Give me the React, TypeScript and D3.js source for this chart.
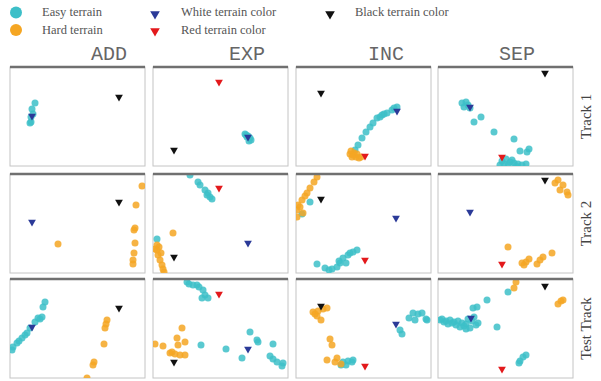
import { scaleLinear, symbol, symbolTriangle } from "d3";

type Pt = [number, number];

// embedding coordinates, x in [0,135], y in [0,99] (y grows downward)
const columns = ["ADD", "EXP", "INC", "SEP"];
const rows = ["Track 1", "Track 2", "Test Track"];

const easyTrack1: Pt[][] = [
  [[25, 36], [22, 42], [21, 50], [21, 55], [20, 56], [23, 47]],
  [[92, 67], [95, 69], [97, 71], [98, 73], [94, 70], [96, 74], [93, 68]],
  [[101, 40], [96, 43], [91, 46], [86, 48], [81, 51], [77, 56], [74, 60], [70, 65], [66, 71], [62, 78], [59, 83], [98, 41], [88, 47], [84, 50]],
  [[24, 36], [28, 35], [30, 38], [26, 40], [32, 41], [43, 50], [36, 55], [56, 65], [76, 72], [82, 84], [91, 82], [89, 85], [64, 94], [68, 92], [72, 95], [76, 96], [80, 97], [84, 98], [88, 97], [70, 98], [66, 97], [74, 93], [78, 99], [62, 98]],
];
const hardTrack1: Pt[][] = [
  [],
  [],
  [[55, 84], [57, 88], [60, 90], [63, 91], [58, 86], [54, 87], [61, 87], [65, 90], [56, 90]],
  [],
];

const easyTrack2: Pt[][] = [
  [],
  [[37, 1], [45, 8], [47, 11], [52, 16], [55, 19], [57, 23], [59, 25], [54, 21], [4, 65]],
  [[14, 28], [6, 40], [21, 90], [29, 94], [36, 95], [41, 93], [44, 89], [47, 84], [52, 81], [57, 78], [61, 76], [54, 79], [50, 89], [43, 87], [33, 96]],
  [],
];
const hardTrack2: Pt[][] = [
  [[48, 70], [132, 12], [126, 31], [125, 54], [124, 56], [125, 69], [124, 79], [123, 86], [123, 90]],
  [[20, 59], [4, 71], [4, 76], [5, 81], [7, 86], [9, 91], [10, 95], [6, 73], [8, 79], [2, 75], [11, 98]],
  [[21, 3], [18, 8], [14, 14], [11, 19], [6, 26], [2, 31], [1, 36], [1, 43], [7, 39], [4, 33], [9, 22]],
  [[120, 6], [125, 11], [122, 16], [129, 18], [130, 21], [117, 9], [70, 73], [84, 89], [88, 88], [91, 85], [86, 91], [99, 90], [105, 83], [114, 79], [102, 86]],
];

const easyTest: Pt[][] = [
  [[35, 23], [33, 28], [32, 38], [28, 39], [25, 43], [20, 49], [17, 54], [12, 59], [7, 64], [3, 68], [2, 71], [15, 56], [9, 62], [30, 40]],
  [[34, 3], [40, 6], [46, 8], [50, 11], [52, 16], [49, 19], [55, 19], [36, 5], [44, 6], [48, 66], [73, 70], [89, 79], [97, 53], [104, 61], [105, 63], [120, 65], [117, 77], [120, 80], [124, 83], [130, 84], [129, 87]],
  [[47, 83], [52, 82], [56, 83], [50, 86], [45, 86], [57, 81], [104, 51], [106, 55], [113, 39], [117, 34], [122, 35], [126, 34], [119, 41], [131, 41], [130, 40]],
  [[70, 13], [49, 21], [39, 28], [35, 29], [4, 40], [8, 42], [12, 41], [16, 43], [20, 42], [24, 44], [28, 45], [30, 40], [34, 42], [38, 46], [26, 47], [18, 46], [22, 48], [14, 44], [10, 45], [6, 43], [36, 38], [32, 49], [28, 50], [40, 44], [2, 41], [59, 48], [82, 82], [85, 78], [88, 76], [81, 84]],
];
const hardTest: Pt[][] = [
  [[97, 41], [96, 45], [95, 49], [94, 65], [84, 83], [83, 86], [77, 99]],
  [[29, 49], [24, 59], [32, 63], [25, 66], [2, 65], [10, 67], [17, 74], [22, 75], [27, 76], [32, 76], [19, 73]],
  [[17, 33], [22, 32], [27, 30], [31, 29], [21, 37], [25, 41], [19, 35], [34, 60], [36, 66], [31, 81], [41, 79], [39, 83], [45, 85]],
  [[78, 3], [76, 9], [120, 25], [123, 22], [125, 21]],
];

// terrain colour targets, per row then column
const whiteTarget: (Pt | null)[][] = [
  [[22, 49], [95, 70], [101, 44], [32, 40]],
  [[22, 48], [95, 69], [100, 44], [32, 38]],
  [[22, 48], [95, 70], [100, 45], [33, 39]],
];
const redTarget: (Pt | null)[][] = [
  [null, [66, 15], [69, 89], [64, 90]],
  [null, [66, 14], [69, 86], [64, 90]],
  [null, [66, 15], [69, 87], [64, 90]],
];
const blackTarget: (Pt | null)[][] = [
  [[109, 30], [21, 83], [25, 26], [107, 6]],
  [[109, 28], [21, 83], [25, 25], [107, 6]],
  [[109, 29], [21, 83], [25, 27], [107, 7]],
];

const easyRows = [easyTrack1, easyTrack2, easyTest];
const hardRows = [hardTrack1, hardTrack2, hardTest];

const EASY = "#3dbfc8";
const HARD = "#f5a623";
const WHITE = "#2b3a98";
const RED = "#e3191c";
const BLACK = "#111111";

const colLeft = [10, 153, 296, 438];
const rowTop = [67, 174, 279];
const panelW = 135;
const panelH = 99;
const titleX = [109, 247, 386, 517];

const tri = symbol().type(symbolTriangle);

const App = () => {
  const triPath = tri.size(26)() as string;
  const legendTri = tri.size(40)() as string;

  return (
    <svg
      width={601}
      height={381}
      style={{ position: "fixed", left: 0, top: 0, background: "#fff" }}
    >
      <defs>
        {rows.map((r, ri) =>
          columns.map((c, ci) => (
            <clipPath key={`${ri}-${ci}`} id={`clip-${ri}-${ci}`}>
              <rect x={colLeft[ci]} y={rowTop[ri]} width={panelW} height={panelH} />
            </clipPath>
          ))
        )}
      </defs>

      {/* legend */}
      <g fontFamily="'Liberation Serif', serif" fontSize={12.5} fill="#555">
        <circle cx={16} cy={12.5} r={6} fill={EASY} />
        <text x={42} y={16}>Easy terrain</text>
        <circle cx={16} cy={30} r={6} fill={HARD} />
        <text x={42} y={33.5}>Hard terrain</text>
        <path d={legendTri} transform="translate(155,14) rotate(180)" fill={WHITE} />
        <text x={181} y={16}>White terrain color</text>
        <path d={legendTri} transform="translate(155,31) rotate(180)" fill={RED} />
        <text x={181} y={33.5}>Red terrain color</text>
        <path d={legendTri} transform="translate(330,14) rotate(180)" fill={BLACK} />
        <text x={355} y={16}>Black terrain color</text>
      </g>

      {/* column titles */}
      {columns.map((c, ci) => (
        <text
          key={c}
          x={titleX[ci]}
          y={60}
          textAnchor="middle"
          fontFamily="'Liberation Mono', monospace"
          fontSize={20}
          fill="#666"
        >
          {c}
        </text>
      ))}

      {/* row labels */}
      {rows.map((r, ri) => (
        <text
          key={r}
          transform={`translate(591,${rowTop[ri] + panelH / 2}) rotate(-90)`}
          textAnchor="middle"
          fontFamily="'Liberation Serif', serif"
          fontSize={15}
          fill="#444"
        >
          {r}
        </text>
      ))}

      {rows.map((r, ri) =>
        columns.map((c, ci) => {
          const x = scaleLinear().domain([0, 135]).range([colLeft[ci], colLeft[ci] + panelW]);
          const y = scaleLinear().domain([0, 99]).range([rowTop[ri], rowTop[ri] + panelH]);
          const targets: [Pt | null, string][] = [
            [whiteTarget[ri][ci], WHITE],
            [redTarget[ri][ci], RED],
            [blackTarget[ri][ci], BLACK],
          ];
          return (
            <g key={`${r}-${c}`}>
              <rect
                x={colLeft[ci]}
                y={rowTop[ri]}
                width={panelW}
                height={panelH}
                fill="#fff"
                stroke="#c4c4c4"
              />
              <g clipPath={`url(#clip-${ri}-${ci})`}>
                {easyRows[ri][ci].map((d, i) => (
                  <circle key={`e${i}`} cx={x(d[0])} cy={y(d[1])} r={3.5} fill={EASY} fillOpacity={0.85} />
                ))}
                {hardRows[ri][ci].map((d, i) => (
                  <circle key={`h${i}`} cx={x(d[0])} cy={y(d[1])} r={3.5} fill={HARD} fillOpacity={0.85} />
                ))}
                {targets.map(([p, col], i) =>
                  p ? (
                    <path
                      key={`t${i}`}
                      d={triPath}
                      transform={`translate(${x(p[0])},${y(p[1])}) rotate(180)`}
                      fill={col}
                    />
                  ) : null
                )}
              </g>
              <line
                x1={colLeft[ci]}
                x2={colLeft[ci] + panelW}
                y1={rowTop[ri]}
                y2={rowTop[ri]}
                stroke="#707070"
                strokeWidth={2.5}
              />
            </g>
          );
        })
      )}
    </svg>
  );
};

export default App;
